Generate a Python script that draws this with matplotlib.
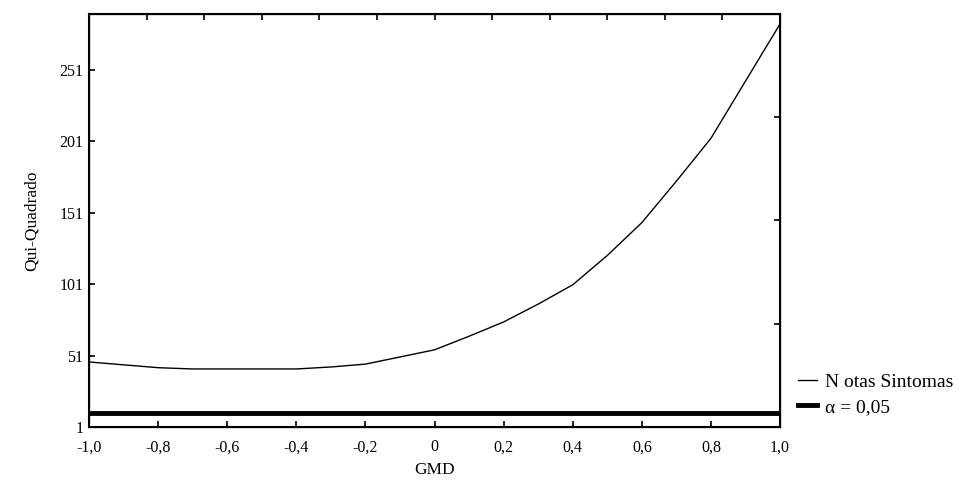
import matplotlib
matplotlib.use("Agg")
import matplotlib.pyplot as plt
from matplotlib.lines import Line2D

plt.rcParams['font.family'] = ['Liberation Serif', 'DejaVu Serif']

# ── Data ─────────────────────────────────────────────────────────────────
gmd = [-1.0, -0.9, -0.8, -0.7, -0.6, -0.5, -0.4, -0.3, -0.2, -0.1,
       0.0, 0.1, 0.2, 0.3, 0.4, 0.5, 0.6, 0.7, 0.8, 0.9, 1.0]
qui = [46.5, 44.5, 42.5, 41.6, 41.6, 41.6, 41.6, 43.0, 45.0, 50.0,
       55.0, 64.5, 74.5, 87.0, 100.5, 121.0, 144.0, 173.0, 203.0, 243.0, 283.0]
alpha_val = 10.8

xticks = [-1.0, -0.8, -0.6, -0.4, -0.2, 0.0, 0.2, 0.4, 0.6, 0.8, 1.0]
xlabels = ['-1,0', '-0,8', '-0,6', '-0,4', '-0,2', '0', '0,2', '0,4', '0,6', '0,8', '1,0']
yticks = [1, 51, 101, 151, 201, 251]

# ── Plot ─────────────────────────────────────────────────────────────────
fig = plt.figure(figsize=(9.72, 4.99), dpi=100)
ax = fig.add_axes([0.0916, 0.1443, 0.7109, 0.8277])

ax.plot(gmd, qui, color='black', lw=1.0)
ax.axhline(alpha_val, color='black', lw=3.5)

ax.set_xlim(-1.0, 1.0)
ax.set_ylim(1, 290)
ax.set_xticks(xticks)
ax.set_xticklabels(xlabels)
ax.set_yticks(yticks)
ax.tick_params(direction='in', length=4, width=1.2, labelsize=11.5)
ax.tick_params(axis='x', pad=9)
ax.tick_params(axis='y', pad=4)
for s in ax.spines.values():
    s.set_linewidth(1.5)

ax.set_xlabel('GMD', fontsize=12.5, labelpad=5)
ax.set_ylabel('Qui-Quadrado', fontsize=12.5, labelpad=14)

# extra ticks on top and right edges
top = ax.twiny()
top.set_xlim(0, 12)
top.set_xticks(range(1, 12))
top.tick_params(direction='in', length=4, width=1.2, labeltop=False)
right = ax.twinx()
right.set_ylim(0, 4)
right.set_yticks([1, 2, 3])
right.tick_params(direction='in', length=4, width=1.2, labelright=False)

handles = [Line2D([], [], color='black', lw=1.0),
           Line2D([], [], color='black', lw=3.5)]
fig.legend(handles, ['N otas Sintomas', 'α = 0,05'],
           loc='center left', bbox_to_anchor=(0.803, 0.209),
           frameon=False, fontsize=14, handlelength=1.0,
           handletextpad=0.4, labelspacing=0.4)

fig.savefig('out.png', dpi=100)
